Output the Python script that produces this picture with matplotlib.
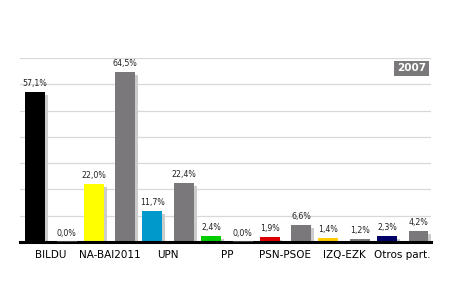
import matplotlib.pyplot as plt
import numpy as np

# datos
partidos = ['BILDU', 'NA-BAI2011', 'UPN', 'PP', 'PSN-PSOE', 'IZQ-EZK', 'Otros part.']
v2011 = [57.1, 22.0, 11.7, 2.4, 1.9, 1.4, 2.3]
v2007 = [0.0, 64.5, 22.4, 0.0, 6.6, 1.2, 4.2]
colores = ['#000000', '#ffff00', '#0099cc', '#00cc00', '#dd0000', '#ffcc00', '#000066']
gris = '#7a787a'
sombra = '#cccccc'

fig = plt.figure(figsize=(4.5, 3), dpi=100)
ax = fig.add_axes([0.044, 0.193, 0.914, 0.614])

x = np.arange(len(partidos))
w = 0.34
off = 0.27
dx = 0.05  # desplazamiento de la sombra
dy = 1.1

for i in range(len(partidos)):
    for xc, v, c in [(x[i] - off, v2011[i], colores[i]), (x[i] + off, v2007[i], gris)]:
        if v > 0:
            ax.bar(xc + dx, v - dy, w, color=sombra, zorder=2)
            ax.bar(xc, v, w, color=c, zorder=3)
        else:
            ax.bar(xc, 0.9, w, bottom=-0.45, color='#404040', zorder=5)
        ax.text(xc, v + 1.6, ('%.1f%%' % v).replace('.', ','), ha='center', va='bottom',
                fontsize=5.7, color='#222222', zorder=6)

ax.set_xlim(-0.53, 6.485)
ax.set_ylim(0, 70)
ax.set_yticks(np.arange(10, 71, 10))
ax.yaxis.grid(True, color='#d8d8d8', linewidth=0.9, zorder=0)
ax.set_axisbelow(True)
ax.tick_params(axis='y', left=False, labelleft=False)
ax.tick_params(axis='x', bottom=False, labelsize=7.5, pad=2)
ax.set_xticks(x)
ax.set_xticklabels(partidos)
for s in ['top', 'right', 'left']:
    ax.spines[s].set_visible(False)
ax.spines['bottom'].set_linewidth(2.2)
ax.spines['bottom'].set_color('black')
ax.spines['bottom'].set_zorder(4)

ax.text(0.988, 0.97, '2007', transform=ax.transAxes, ha='right', va='top',
        fontsize=7.5, fontweight='bold', color='white', zorder=7,
        bbox=dict(facecolor=gris, edgecolor='none', boxstyle='square,pad=0.25'))

fig.savefig('out.png', dpi=100)
